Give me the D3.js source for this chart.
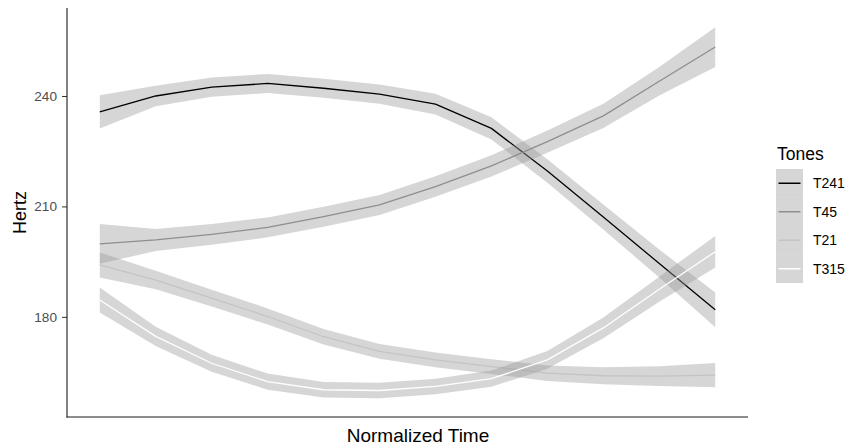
<!DOCTYPE html>
<html>
<head>
<meta charset="utf-8">
<script src="https://cdn.jsdelivr.net/npm/d3@7"></script>
<style>
  html, body { margin: 0; padding: 0; background: #fff; }
  svg { display: block; font-family: "Liberation Sans", Arial, Helvetica, sans-serif; }
</style>
</head>
<body>
<svg id="chart" width="848" height="446"></svg>
<script>
// Normalized time steps (12 samples per contour)
const timeSteps = [1, 2, 3, 4, 5, 6, 7, 8, 9, 10, 11, 12];

// Tone categories, in legend order
const tones = ["T241", "T45", "T21", "T315"];

// Mean pitch (Hz) per time step
const hzT241 = [235.7, 240.0, 242.4, 243.4, 242.1, 240.5, 237.8, 231.2, 219.6, 207.1, 194.5, 181.9];
const hzT45  = [199.8, 200.9, 202.4, 204.3, 207.2, 210.4, 215.4, 221.0, 227.6, 234.6, 244.0, 253.3];
const hzT21  = [194.1, 190.0, 185.1, 180.1, 174.6, 170.6, 168.3, 166.5, 164.7, 164.0, 163.9, 164.2];
const hzT315 = [184.6, 174.7, 167.4, 162.4, 160.2, 160.0, 161.1, 163.2, 168.3, 177.0, 187.5, 197.7];

// Confidence band half-widths (Hz) per time step
const seT241 = [4.5, 2.8, 2.6, 2.6, 2.6, 2.6, 2.8, 3.0, 3.2, 3.4, 3.8, 4.7];
const seT45  = [5.4, 3.0, 2.8, 2.7, 2.7, 2.7, 2.8, 2.9, 3.0, 3.3, 3.9, 5.4];
const seT21  = [3.4, 2.5, 2.3, 2.2, 2.1, 2.0, 2.0, 2.0, 2.1, 2.3, 2.7, 3.3];
const seT315 = [3.4, 2.6, 2.3, 2.2, 2.1, 2.1, 2.1, 2.2, 2.4, 2.8, 3.4, 4.3];

// Y axis tick values
const yTicks = [180, 210, 240];

// Line colours (grey scale from black to white)
const toneColors = ["#000000", "#8e8e8e", "#c4c4c4", "#ffffff"];

const seriesHz = [hzT241, hzT45, hzT21, hzT315];
const seriesSe = [seT241, seT45, seT21, seT315];

const series = tones.map((name, i) => ({
  name,
  color: toneColors[i],
  points: timeSteps.map((t, j) => ({
    t,
    hz: seriesHz[i][j],
    lo: seriesHz[i][j] - seriesSe[i][j],
    hi: seriesHz[i][j] + seriesSe[i][j]
  }))
}));

const svg = d3.select("#chart");
const panel = { left: 67, right: 746, top: 8, bottom: 417 };

const x = d3.scaleLinear().domain([0.45, 12.55]).range([panel.left + 2, panel.right]);
const y = d3.scaleLinear().domain([152.8, 263.9]).range([panel.bottom, panel.top]);

const bandFill = "#999999";
const bandOpacity = 0.4;

const area = d3.area()
  .x(d => x(d.t))
  .y0(d => y(d.lo))
  .y1(d => y(d.hi));

const line = d3.line()
  .x(d => x(d.t))
  .y(d => y(d.hz));

const plot = svg.append("g");

// Each tone: confidence band first, then its mean line
series.forEach(s => {
  plot.append("path")
    .datum(s.points)
    .attr("d", area)
    .attr("fill", bandFill)
    .attr("fill-opacity", bandOpacity)
    .attr("stroke", "none");
  plot.append("path")
    .datum(s.points)
    .attr("d", line)
    .attr("fill", "none")
    .attr("stroke", s.color)
    .attr("stroke-width", 1.3)
    .attr("stroke-linejoin", "round");
});

// Y axis
const yAxis = d3.axisLeft(y).tickValues(yTicks).tickSize(5).tickPadding(5);
const yG = svg.append("g")
  .attr("transform", `translate(${panel.left},0)`)
  .call(yAxis);
yG.select(".domain").remove();
yG.selectAll(".tick line").attr("stroke", "#333333").attr("stroke-width", 1);
yG.selectAll(".tick text")
  .attr("fill", "#4d4d4d")
  .style("font-size", "13.6px")
  .style("font-family", "'Liberation Sans', Arial, sans-serif");

// Axis lines (left and bottom)
svg.append("line")
  .attr("x1", panel.left).attr("x2", panel.left)
  .attr("y1", panel.top).attr("y2", panel.bottom + 0.5)
  .attr("stroke", "#1a1a1a").attr("stroke-width", 1.1);
svg.append("line")
  .attr("x1", panel.left - 0.5).attr("x2", panel.right + 2)
  .attr("y1", panel.bottom).attr("y2", panel.bottom)
  .attr("stroke", "#1a1a1a").attr("stroke-width", 1.1);

// Axis titles
svg.append("text")
  .attr("x", 418)
  .attr("y", 442)
  .attr("text-anchor", "middle")
  .style("font-size", "19px")
  .attr("fill", "#000")
  .text("Normalized Time");

svg.append("text")
  .attr("transform", `translate(26,${(panel.top + panel.bottom) / 2}) rotate(-90)`)
  .attr("text-anchor", "middle")
  .style("font-size", "18px")
  .attr("fill", "#000")
  .text("Hertz");

// Legend
const legend = svg.append("g").attr("transform", "translate(776,0)");
legend.append("text")
  .attr("x", 1).attr("y", 160)
  .style("font-size", "17.5px")
  .attr("fill", "#000")
  .text("Tones");

const keyTop = 169, keyH = 28.5, keyW = 27;
series.forEach((s, i) => {
  const ky = keyTop + i * keyH;
  legend.append("rect")
    .attr("x", 0).attr("y", ky)
    .attr("width", keyW).attr("height", keyH)
    .attr("fill", bandFill).attr("fill-opacity", bandOpacity);
  legend.append("line")
    .attr("x1", 2.5).attr("x2", keyW - 2.5)
    .attr("y1", ky + keyH / 2).attr("y2", ky + keyH / 2)
    .attr("stroke", s.color).attr("stroke-width", 1.5);
  legend.append("text")
    .attr("x", keyW + 10).attr("y", ky + keyH / 2)
    .attr("dy", "0.35em")
    .style("font-size", "14px")
    .attr("fill", "#000")
    .text(s.name);
});
</script>
</body>
</html>
